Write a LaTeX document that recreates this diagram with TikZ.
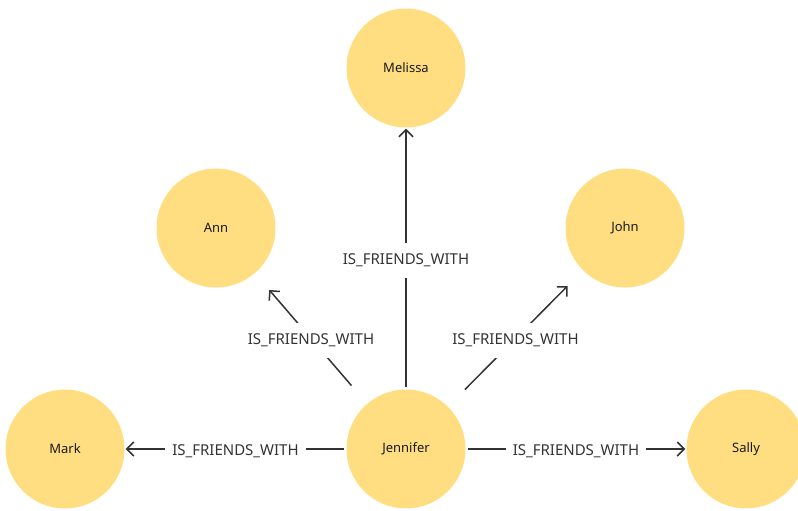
\documentclass[tikz,border=0pt]{standalone}
\usepackage{fontspec}
\setmainfont{Noto Sans}
\usetikzlibrary{arrows.meta, positioning}

\definecolor{personfill}{HTML}{FFDE82}
\definecolor{edgegray}{HTML}{333333}

\begin{document}
\begin{tikzpicture}[x=1pt, y=1pt, on grid, node distance=100pt,
    person/.style={circle, fill=personfill, minimum size=119pt, inner sep=0pt,
      text=black!90, font=\fontsize{13}{15}\selectfont},
    friend/.style={-{Straight Barb[length=7pt,width=14pt]}, line width=1.5pt,
      draw=edgegray, shorten <=2pt, shorten >=1pt},
    slanted/.style={shorten <=24pt, shorten >=22pt},
    rel/.style={fill=white, inner xsep=7pt, inner ysep=11pt, yshift=-2pt,
      text=edgegray, font=\fontsize{15}{17}\selectfont}]
    \useasboundingbox (0,0) rectangle (798,-511);
    \node[person] (jennifer) at (406,-449) {Jennifer};
    \node[person] (mark) [left=341pt of jennifer] {Mark};
    \node[person] (sally) [right=340pt of jennifer] {Sally};
    \node[person] (melissa) [above=381pt of jennifer] {Melissa};
    \node[person] (ann) [above left=221pt and 190pt of jennifer] {Ann};
    \node[person] (john) [above right=221pt and 219pt of jennifer] {John};
    % straight ones touch the circles, the slanted ones stop short
    \path[friend]
    (jennifer) edge node[rel] {IS\_FRIENDS\_WITH} (melissa)
    (jennifer) edge[slanted] node[rel] {IS\_FRIENDS\_WITH} (ann)
    (jennifer) edge[slanted] node[rel] {IS\_FRIENDS\_WITH} (john)
    (jennifer) edge node[rel] {IS\_FRIENDS\_WITH} (mark)
    (jennifer) edge node[rel] {IS\_FRIENDS\_WITH} (sally);
\end{tikzpicture}
\end{document}
